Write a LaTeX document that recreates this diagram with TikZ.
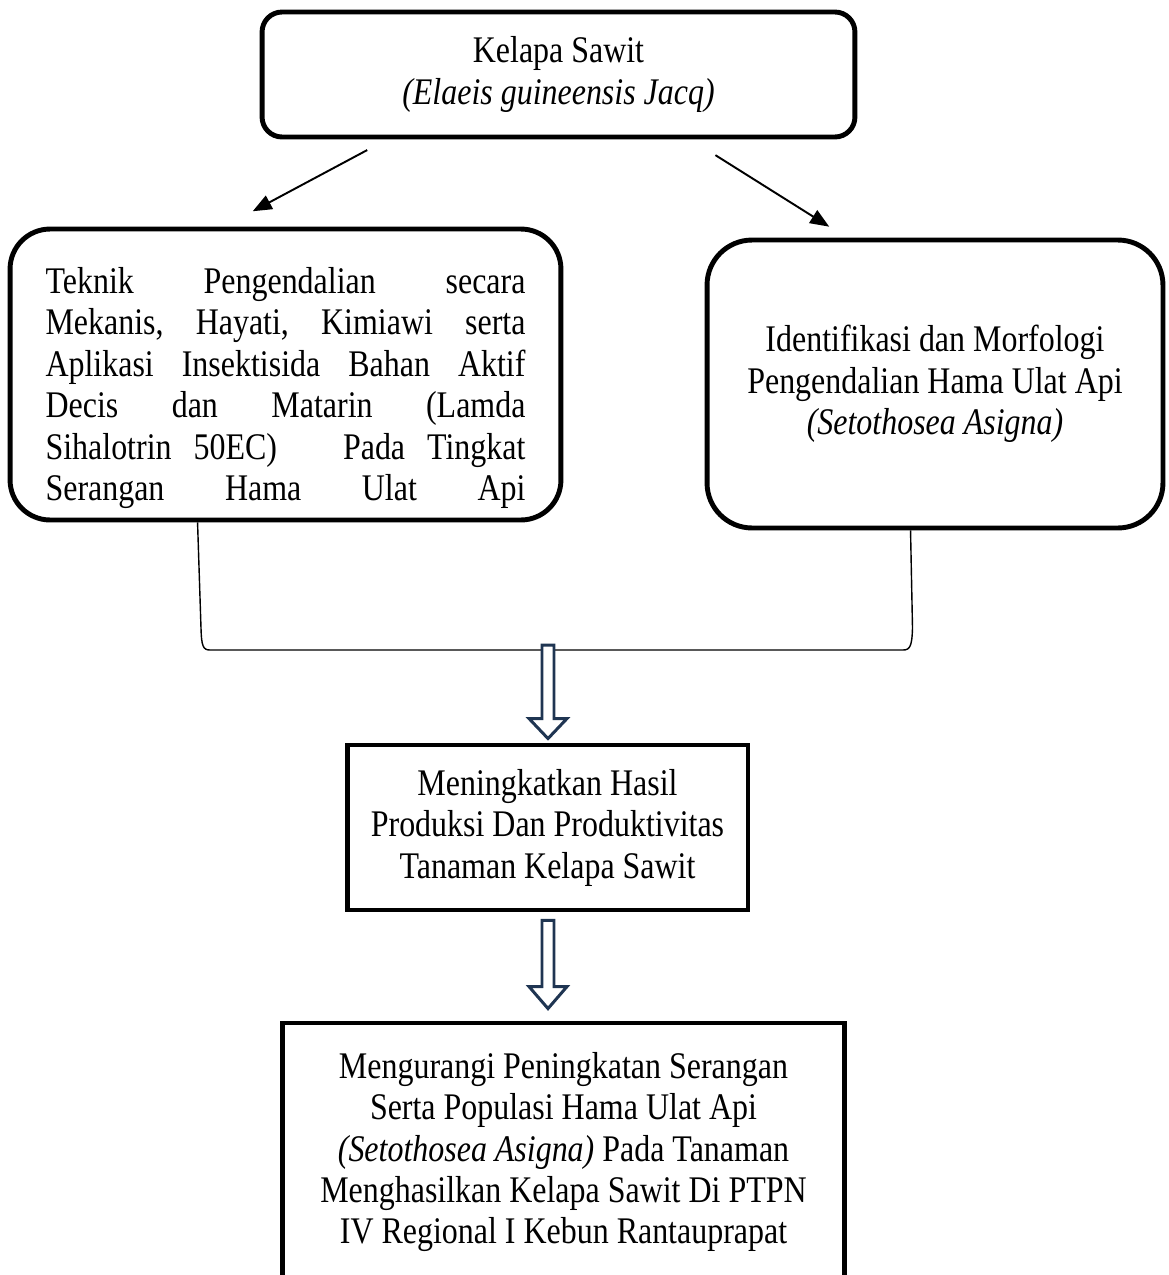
\documentclass[tikz,border=0pt]{standalone}
\usepackage{fontspec}
\setmainfont{Liberation Serif}[FakeStretch=0.85]
\usepackage{tikz}
\usetikzlibrary{arrows.meta,calc}
\definecolor{navy}{HTML}{1F3552}
\tikzstyle{box} = [rectangle, draw, line width=2.8pt, align=center, font=\fontsize{21.4}{23.6}\selectfont]
\tikzstyle{rbox} = [box, rounded corners=0.8cm]
\tikzstyle{bracket} = [line width=0.8pt]
\tikzstyle{hollow} = [draw=navy, line width=1.7pt, fill=white, line join=miter]

\begin{document}
\begin{tikzpicture}[x=0.02cm,y=-0.02cm,>={Triangle[length=0.38cm,width=0.3cm]},line width=1.1pt]
  \useasboundingbox (0,0) rectangle (1169,1275);
  \node[box, rounded corners=0.4cm, minimum width=11.86cm, minimum height=2.5cm] (sawit) at (558.5,74.5) {Kelapa Sawit\\\textit{(Elaeis guineensis Jacq)}};
  \node[rbox, minimum width=11.02cm, minimum height=5.82cm] (teknik) at (285.5,374.5) {\raisebox{-0.27cm}[\height][\depth]{\parbox{9.6cm}{%
    Teknik\hfill Pengendalian\hfill secara\\
    Mekanis,\hfill Hayati,\hfill Kimiawi\hfill serta\\
    Aplikasi\hfill Insektisida\hfill Bahan\hfill Aktif\\
    Decis\hfill dan\hfill Matarin\hfill (Lamda\\
    Sihalotrin\hfill 50EC)\hfill\hfill\hfill Pada\hfill Tingkat\\
    Serangan\hfill Hama\hfill Ulat\hfill Api}}};
  \node[rbox, rounded corners=0.9cm, minimum width=9.12cm, minimum height=5.76cm] (identifikasi) at (935,384) {Identifikasi dan Morfologi\\Pengendalian Hama Ulat Api\\\textit{(Setothosea Asigna)}};
  \node[box, minimum width=8.02cm, minimum height=3.3cm] (hasil) at (547.5,827.5) {Meningkatkan Hasil\\Produksi Dan Produktivitas\\Tanaman Kelapa Sawit};
  \node[box, minimum width=11.26cm, minimum height=5.16cm] (serangan) at (563.5,1152) {Mengurangi Peningkatan Serangan\\Serta Populasi Hama Ulat Api\\\textit{(Setothosea Asigna)} Pada Tanaman\\Menghasilkan Kelapa Sawit Di PTPN\\IV Regional I Kebun Rantauprapat};
  \coordinate (join) at (548,650);

  % arrows from the top box
  \draw[->, shorten <=0.45cm, shorten >=0.65cm] ([xshift=2.55cm]sawit.south west) -- ([xshift=4.33cm]teknik.north west);
  \draw[->, shorten <=0.59cm, shorten >=0.41cm] ([xshift=-3.34cm]sawit.south east) -- ([xshift=2.84cm]identifikasi.north west);

  % bracket joining both boxes
  \draw[bracket] ([xshift=3.8cm]teknik.south west) -- (201,628) .. controls (201.5,646) and (203,650) .. (210,650) -- (join) -- (903,650) .. controls (910,650) and (912,646) .. (912.5,628) -- ([xshift=4.12cm]identifikasi.south west);

  % hollow arrows
  \draw[hollow] ($(join)+(-6,-5)$) -- ($(join)+(6,-5)$) -- ($(hasil.north)+(6.5,-24)$) -- ($(hasil.north)+(19.5,-24)$) -- ($(hasil.north)+(0.5,-4)$) -- ($(hasil.north)+(-18.5,-24)$) -- ($(hasil.north)+(-5.5,-24)$) -- cycle;
  \draw[hollow] ($(hasil.south)+(-5.5,8)$) -- ($(hasil.south)+(6.5,8)$) -- ($(hasil.south |- serangan.north)+(6.5,-34)$) -- ($(hasil.south |- serangan.north)+(19.5,-34)$) -- ($(hasil.south |- serangan.north)+(0.5,-12)$) -- ($(hasil.south |- serangan.north)+(-18.5,-34)$) -- ($(hasil.south |- serangan.north)+(-5.5,-34)$) -- cycle;
\end{tikzpicture}
\end{document}
